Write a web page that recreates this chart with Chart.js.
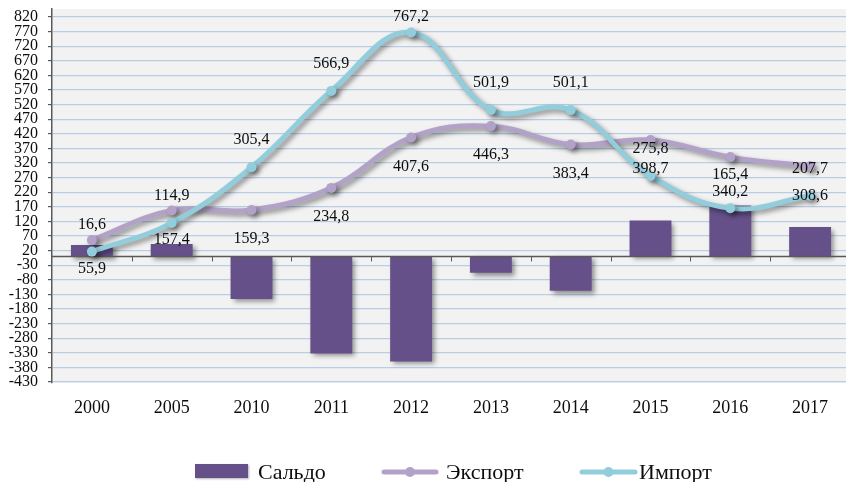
<!DOCTYPE html>
<html><head><meta charset="utf-8">
<script src="https://cdn.jsdelivr.net/npm/chart.js@4/dist/chart.umd.min.js"></script>
<style>
html,body{margin:0;padding:0;overflow:hidden;background:#fff;width:846px;height:482px}
#wrap{position:absolute;left:0;top:0;width:858px;height:482px}
</style>
</head><body><div id="wrap"><canvas id="c" width="858" height="482"></canvas></div>
<script>
const categories = ['2000','2005','2010','2011','2012','2013','2014','2015','2016','2017'];
const saldo = [39.3, 42.5, -146.1, -332.1, -359.6, -55.6, -117.7, 122.9, 174.8, 100.9];
const exportValues = [55.9, 157.4, 159.3, 234.8, 407.6, 446.3, 383.4, 398.7, 340.2, 308.6];
const importValues = [16.6, 114.9, 305.4, 566.9, 767.2, 501.9, 501.1, 275.8, 165.4, 207.7];
const yTicks = [820,770,720,670,620,570,520,470,420,370,320,270,220,170,120,70,20,-30,-80,-130,-180,-230,-280,-330,-380,-430];
const seriesNames = ['Сальдо','Экспорт','Импорт'];

const SERIF = "'Liberation Serif','Times New Roman',serif";
const BAR_COLOR = '#65508a';
const EXP_COLOR = '#b3a2c7';
const IMP_COLOR = '#92cddc';

const fmt = v => v.toFixed(1).replace('.', ',');

const bgPlugin = {
  id: 'bg',
  beforeDraw(chart) {
    const {ctx, chartArea: a} = chart;
    ctx.save();
    ctx.fillStyle = '#f2f2f2';
    ctx.fillRect(a.left, a.top, a.right - a.left, a.bottom - a.top);
    ctx.restore();
  }
};

const shadowPlugin = {
  id: 'shadow',
  beforeDatasetDraw(chart) {
    const ctx = chart.ctx;
    ctx.save();
    ctx.shadowColor = 'rgba(0,0,0,0.42)';
    ctx.shadowBlur = 5;
    ctx.shadowOffsetX = 3;
    ctx.shadowOffsetY = 3;
  },
  afterDatasetDraw(chart, args) {
    const ctx = chart.ctx;
    ctx.restore();
    if (args.index === 0) {
      const a = chart.chartArea;
      const ys = chart.scales.y;
      const y0 = ys.getPixelForValue(0);
      ctx.save();
      ctx.strokeStyle = '#595959';
      ctx.lineWidth = 1.5;
      ctx.beginPath();
      ctx.moveTo(a.left, y0);
      ctx.lineTo(a.right, y0);
      ctx.stroke();
      ctx.lineWidth = 1;
      const n = categories.length;
      const w = (a.right - a.left) / n;
      ctx.beginPath();
      for (let i = 1; i < n; i++) {
        const x = Math.round(a.left + i * w) + 0.5;
        ctx.moveTo(x, y0);
        ctx.lineTo(x, y0 + 5);
      }
      ctx.stroke();
      ctx.restore();
    }
  }
};

const labelPlugin = {
  id: 'valueLabels',
  afterDatasetsDraw(chart) {
    const ctx = chart.ctx;
    const a = chart.chartArea;
    ctx.save();
    ctx.font = '16px ' + SERIF;
    ctx.fillStyle = '#0d0d0d';
    ctx.textAlign = 'center';
    ctx.textBaseline = 'middle';
    const impMeta = chart.getDatasetMeta(2);
    const expMeta = chart.getDatasetMeta(1);
    for (let i = 0; i < categories.length; i++) {
      const pi = impMeta.data[i], pe = expMeta.data[i];
      let yi = Math.max(pi.y - 27, a.top + 8);
      let ye = pe.y + 29;
      if (Math.abs(yi - ye) < 17) {
        const mid = (yi + ye) / 2;
        if (yi <= ye) { yi = mid - 8.5; ye = mid + 8.5; }
        else { ye = mid - 8.5; yi = mid + 8.5; }
      }
      ctx.fillText(fmt(importValues[i]), pi.x, yi);
      ctx.fillText(fmt(exportValues[i]), pe.x, ye);
    }
    ctx.restore();
  }
};

const legendPlugin = {
  id: 'customLegend',
  afterDraw(chart) {
    const ctx = chart.ctx;
    const yc = 471;
    ctx.save();
    ctx.save();
    ctx.shadowColor = 'rgba(0,0,0,0.3)'; ctx.shadowBlur = 2; ctx.shadowOffsetX = 1; ctx.shadowOffsetY = 1;
    ctx.fillStyle = BAR_COLOR;
    ctx.fillRect(195, yc - 7, 53, 14);
    ctx.restore();
    const line = (x1, x2, color) => {
      ctx.strokeStyle = color; ctx.lineWidth = 5; ctx.lineCap = 'round';
      ctx.beginPath(); ctx.moveTo(x1, yc + 1); ctx.lineTo(x2, yc + 1); ctx.stroke();
      ctx.fillStyle = color;
      ctx.beginPath(); ctx.arc((x1 + x2) / 2, yc + 1, 5, 0, Math.PI * 2); ctx.fill();
    };
    line(384, 436, EXP_COLOR);
    line(582, 635, IMP_COLOR);
    ctx.font = '22px ' + SERIF;
    ctx.fillStyle = '#0d0d0d';
    ctx.textBaseline = 'middle';
    ctx.textAlign = 'left';
    ctx.fillText(seriesNames[0], 258, yc + 2);
    ctx.fillText(seriesNames[1], 446, yc + 2);
    ctx.fillText(seriesNames[2], 639, yc + 2);
    ctx.restore();
  }
};

new Chart(document.getElementById('c'), {
  data: {
    labels: categories,
    datasets: [
      { type: 'bar', label: seriesNames[0], data: saldo, backgroundColor: BAR_COLOR,
        categoryPercentage: 1, barPercentage: 0.525, order: 2 },
      { type: 'line', label: seriesNames[1], data: exportValues, borderColor: EXP_COLOR,
        backgroundColor: EXP_COLOR, borderWidth: 5, tension: 0.4, pointRadius: 5,
        pointBorderWidth: 0, pointBackgroundColor: EXP_COLOR, fill: false, order: 1 },
      { type: 'line', label: seriesNames[2], data: importValues, borderColor: IMP_COLOR,
        backgroundColor: IMP_COLOR, borderWidth: 5, tension: 0.4, pointRadius: 5,
        pointBorderWidth: 0, pointBackgroundColor: IMP_COLOR, fill: false, order: 0 }
    ]
  },
  options: {
    responsive: false,
    animation: false,
    devicePixelRatio: 1,
    layout: { padding: { left: 0, top: 9, right: 8, bottom: 59 } },
    plugins: { legend: { display: false }, tooltip: { enabled: false } },
    scales: {
      x: {
        offset: true,
        grid: { display: false },
        border: { display: false },
        ticks: { font: { family: SERIF, size: 18 }, color: '#0d0d0d', padding: 6, maxRotation: 0 },
        afterFit(scale) { scale.height = 40; scale.paddingLeft = 0; scale.paddingRight = 0; }
      },
      y: {
        min: -433.4,
        max: 847.4,
        afterBuildTicks(scale) { scale.ticks = yTicks.map(v => ({ value: v })); },
        grid: { color: '#b9cde5', lineWidth: 1.2, tickColor: '#595959', tickLength: 4 },
        border: { display: true, color: '#595959', width: 1.5 },
        ticks: { font: { family: SERIF, size: 16 }, color: '#0d0d0d', padding: 10, autoSkip: false,
                 callback: v => String(v) },
        afterFit(scale) { scale.width = 52; scale.paddingTop = 0; scale.paddingBottom = 0; }
      }
    }
  },
  plugins: [bgPlugin, shadowPlugin, labelPlugin, legendPlugin]
});
</script>
</body></html>
